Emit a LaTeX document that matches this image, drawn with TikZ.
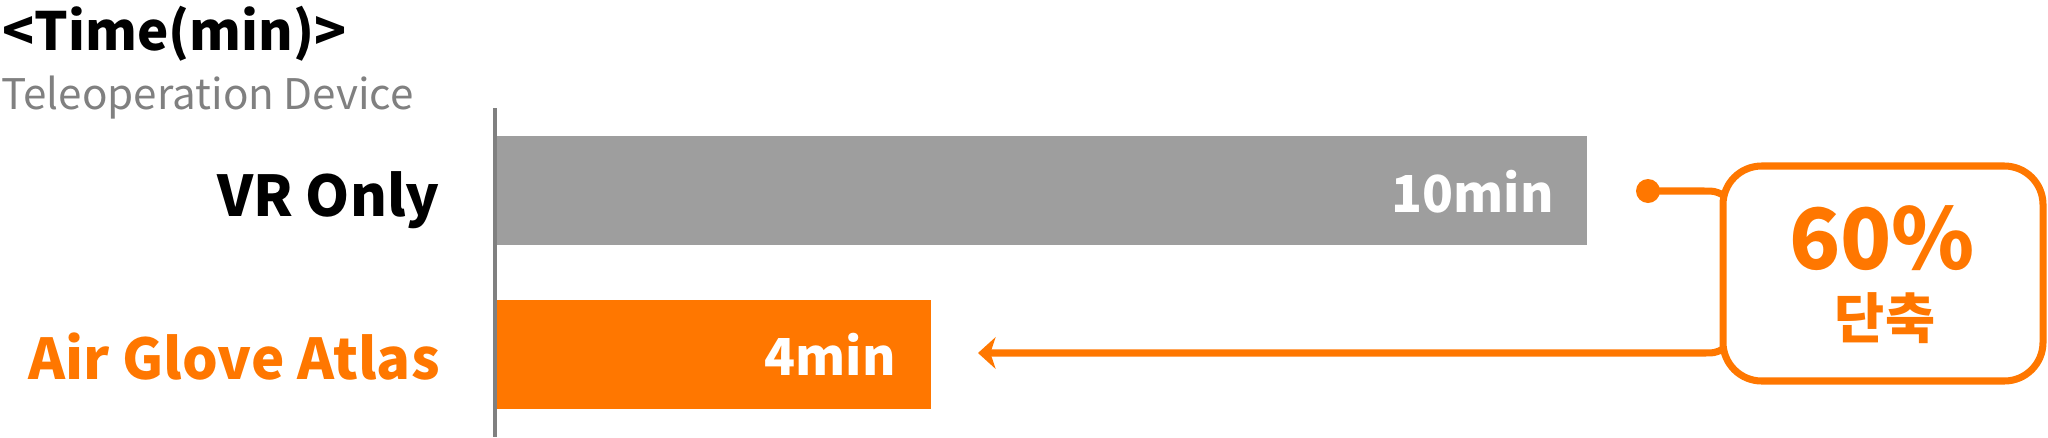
\documentclass[tikz,border=0pt]{standalone}
\usepackage{fontspec}
\setmainfont{Noto Sans CJK KR}
\usetikzlibrary{arrows.meta}
\definecolor{org}{HTML}{FF7700}
\definecolor{barg}{HTML}{9E9E9E}
\begin{document}
\begin{tikzpicture}[x=0.02cm,y=-0.02cm,
  lbl/.style={inner sep=0,font=\fontsize{32}{34}\selectfont\bfseries},
  inbar/.style={inner sep=0,text=white,font=\fontsize{29}{31}\selectfont\bfseries},
  oline/.style={org,line width=4pt}]
\useasboundingbox (0,0) rectangle (2048,437);
\node[anchor=north west,inner sep=0,font=\fontsize{30}{32}\selectfont\bfseries] (title) at (2,6) {<Time(min)>};
\node[anchor=north west,inner sep=0,text=gray,font=\fontsize{24}{26}\selectfont] (sub) at (1,76) {Teleoperation Device};
\fill[barg] (497,136) rectangle (1587,245);
\fill[org] (497,300) rectangle (931,409);
\draw[gray,line width=2pt] (495,108) -- (495,437);
\node[lbl,anchor=east] (vr) at (440,200) {VR Only};
\node[lbl,anchor=east,text=org] (ag) at (440,357) {Air Glove Atlas};
\node[inbar,anchor=east] (t10) at (1554,192) {10min};
\node[inbar,anchor=east] (t4) at (896,354) {4min};
\draw[oline,rounded corners=22pt] (1723,166) rectangle (2043,381);
\node[inner sep=0,text=org,font=\fontsize{48}{50}\selectfont\bfseries] (pct) at (1882,238) {60\%};
\node[inner sep=0,text=org,font=\fontsize{31}{33}\selectfont\bfseries] (dan) at (1885,318) {단축};
\coordinate (dot) at (1648,191);
\coordinate (ah) at (978,353);
\fill[org] (dot) circle (12);
\draw[oline] (dot) -- (1700,191) .. controls (1715,191) .. (1723,195);
\draw[oline,-{Stealth[length=10pt,width=18pt,inset=3pt]}] (1723,349) .. controls (1715,353) .. (1700,353) -- (ah);
\end{tikzpicture}
\end{document}
